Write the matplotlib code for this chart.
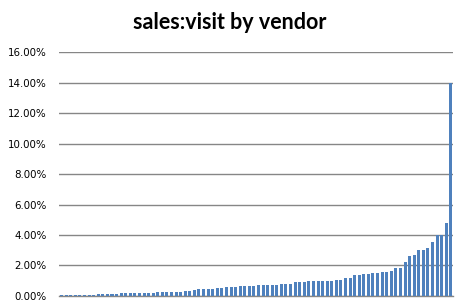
import matplotlib
matplotlib.use("Agg")
import matplotlib.pyplot as plt
import numpy as np
from matplotlib.ticker import FuncFormatter

# sales:visit ratio per vendor, sorted ascending (percent)
ratios = [
    0.04, 0.04, 0.04,
    0.09, 0.09, 0.09, 0.09, 0.09,
    0.15, 0.15, 0.15, 0.15, 0.15,
    0.22, 0.22, 0.22, 0.22, 0.22, 0.22, 0.22, 0.22,
    0.28, 0.28, 0.28, 0.28, 0.28, 0.28,
    0.34, 0.34, 0.41,
    0.47, 0.47, 0.47, 0.47, 0.54, 0.54, 0.60, 0.60, 0.60,
    0.67, 0.67, 0.67, 0.67, 0.73, 0.73, 0.73, 0.73, 0.73,
    0.80, 0.80, 0.80, 0.92, 0.92, 0.92, 0.98, 0.98, 0.98,
    0.98, 0.99, 1.00, 1.06, 1.06, 1.18, 1.18, 1.38, 1.38,
    1.44, 1.44, 1.51, 1.51, 1.57, 1.57, 1.64, 1.84, 1.84,
    2.23, 2.62, 2.69, 3.02, 3.02, 3.15, 3.54, 4.00, 4.00,
    4.79, 14.00,
]
yticks = [0, 2, 4, 6, 8, 10, 12, 14, 16]
title = "sales:visit by vendor"

fig = plt.figure(figsize=(4.6, 3.08), dpi=100)
ax = fig.add_axes([0.129, 0.039, 0.856, 0.792])

x = np.arange(len(ratios))
ax.bar(x, ratios, width=0.66, color="#4F81BD", zorder=3)

ax.set_xlim(-0.5, len(ratios) - 0.5)
ax.set_ylim(0, 16)
ax.set_yticks(yticks)
ax.yaxis.set_major_formatter(FuncFormatter(lambda v, p: "%.2f%%" % v))
ax.tick_params(axis="y", length=0, labelsize=7.4, pad=9)
ax.set_xticks([])
ax.grid(axis="y", color="#868686", linewidth=1.0, zorder=0)
for s in ["top", "right", "left"]:
    ax.spines[s].set_visible(False)
ax.spines["bottom"].set_color("#868686")
ax.spines["bottom"].set_linewidth(1.0)

fig.text(0.5, 0.928, title, ha="center", va="center",
         fontsize=15.5, fontweight="bold", family=["Lato", "DejaVu Sans"])

fig.savefig("out.png", dpi=100)
